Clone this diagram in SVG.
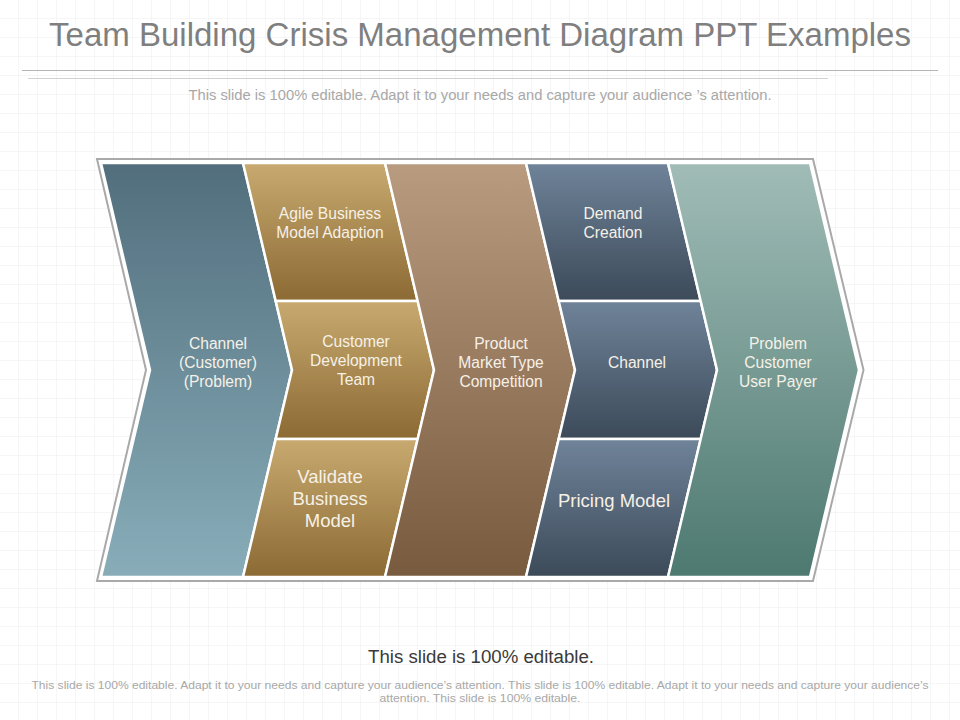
<svg xmlns="http://www.w3.org/2000/svg" width="960" height="720" viewBox="0 0 960 720">
<style>
.lbl{font-family:"Liberation Sans",Arial,sans-serif;font-size:15.6px;fill:#f6f1e7;text-anchor:middle}
.big{font-size:18.5px}
.sh{stroke:#ffffff;stroke-width:2.5;stroke-linejoin:miter}
.ft{font-family:"Liberation Sans",Arial,sans-serif;text-anchor:middle}
</style>
<defs>
<pattern id="grid" width="19" height="19" patternUnits="userSpaceOnUse">
<path d="M19 0 V19 M0 19 H19" fill="none" stroke="#ececec" stroke-width="1"/>
</pattern>
<linearGradient id="gBlue" x1="0" y1="0" x2="0" y2="1"><stop offset="0" stop-color="#526e7d"/><stop offset="1" stop-color="#88adb9"/></linearGradient>
<linearGradient id="gGold" x1="0" y1="0" x2="0" y2="1"><stop offset="0" stop-color="#c8aa70"/><stop offset="1" stop-color="#8b6a33"/></linearGradient>
<linearGradient id="gBrown" x1="0" y1="0" x2="0" y2="1"><stop offset="0" stop-color="#b99b80"/><stop offset="1" stop-color="#785a3f"/></linearGradient>
<linearGradient id="gSlate" x1="0" y1="0" x2="0" y2="1"><stop offset="0" stop-color="#6f8399"/><stop offset="1" stop-color="#3c4a59"/></linearGradient>
<linearGradient id="gTeal" x1="0" y1="0" x2="0" y2="1"><stop offset="0" stop-color="#a1bcb7"/><stop offset="1" stop-color="#4d7970"/></linearGradient>
</defs>
<rect width="960" height="720" fill="#ffffff"/>
<rect width="960" height="720" fill="url(#grid)"/>

<g id="header">
<text class="ft" x="480" y="46" font-size="33" fill="#7f7f7f" textLength="862" lengthAdjust="spacingAndGlyphs">Team Building Crisis Management Diagram PPT Examples</text>
<line x1="22" y1="70.5" x2="938" y2="70.5" stroke="#b5b5b5" stroke-width="1"/>
<line x1="28" y1="78.5" x2="828" y2="78.5" stroke="#d0d0d0" stroke-width="1"/>
<text class="ft" x="480" y="100" font-size="14" fill="#a8a8a8" textLength="583" lengthAdjust="spacingAndGlyphs">This slide is 100% editable. Adapt it to your needs and capture your  audience ’s attention.</text>
</g>

<g id="frame">
<polygon points="97,159 813,159 863.5,370 813,581 97,581 146,370" fill="#ffffff" stroke="#a9a9a9" stroke-width="2"/>
</g>

<g id="connectors"></g>

<g id="node-channel-customer-problem">
<polygon class="sh" points="101,163 243,163 292,370 243,577 101,577 150,370" fill="url(#gBlue)"/>
<text class="lbl" x="218" y="349">Channel</text>
<text class="lbl" x="218" y="368">(Customer)</text>
<text class="lbl" x="218" y="387">(Problem)</text>
</g>

<g id="node-agile-business">
<polygon class="sh" points="243,163 385,163 417.7,301 275.7,301" fill="url(#gGold)"/>
<text class="lbl" x="330" y="219">Agile Business</text>
<text class="lbl" x="330" y="238">Model Adaption</text>
</g>

<g id="node-customer-development">
<polygon class="sh" points="275.7,301 417.7,301 434,370 417.7,439 275.7,439 292,370" fill="url(#gGold)"/>
<text class="lbl" x="356" y="347">Customer</text>
<text class="lbl" x="356" y="366">Development</text>
<text class="lbl" x="356" y="385">Team</text>
</g>

<g id="node-validate-business">
<polygon class="sh" points="275.7,439 417.7,439 385,577 243,577" fill="url(#gGold)"/>
<text class="lbl big" x="330" y="483">Validate</text>
<text class="lbl big" x="330" y="505">Business</text>
<text class="lbl big" x="330" y="527">Model</text>
</g>

<g id="node-product-market">
<polygon class="sh" points="385,163 526,163 575,370 526,577 385,577 434,370" fill="url(#gBrown)"/>
<text class="lbl" x="501" y="349">Product</text>
<text class="lbl" x="501" y="368">Market Type</text>
<text class="lbl" x="501" y="387">Competition</text>
</g>

<g id="node-demand-creation">
<polygon class="sh" points="526,163 668,163 700.7,301 558.7,301" fill="url(#gSlate)"/>
<text class="lbl" x="613" y="219">Demand</text>
<text class="lbl" x="613" y="238">Creation</text>
</g>

<g id="node-channel">
<polygon class="sh" points="558.7,301 700.7,301 717,370 700.7,439 558.7,439 575,370" fill="url(#gSlate)"/>
<text class="lbl" x="637" y="368">Channel</text>
</g>

<g id="node-pricing-model">
<polygon class="sh" points="558.7,439 700.7,439 668,577 526,577" fill="url(#gSlate)"/>
<text class="lbl big" x="614" y="507">Pricing Model</text>
</g>

<g id="node-problem-customer">
<polygon class="sh" points="668,163 810,163 859,370 810,577 668,577 717,370" fill="url(#gTeal)"/>
<text class="lbl" x="778" y="349">Problem</text>
<text class="lbl" x="778" y="368">Customer</text>
<text class="lbl" x="778" y="387">User Payer</text>
</g>

<g id="footer">
<text class="ft" x="481" y="663" font-size="18" fill="#3a3a3a" textLength="226" lengthAdjust="spacingAndGlyphs">This slide is 100% editable.</text>
<text class="ft" x="480" y="689" font-size="11" fill="#a8a8a8" textLength="897" lengthAdjust="spacingAndGlyphs">This slide is 100% editable. Adapt it to your needs and capture your audience’s attention. This slide is 100% editable. Adapt it to your needs and capture your audience’s</text>
<text class="ft" x="480" y="702" font-size="11" fill="#a8a8a8" textLength="201" lengthAdjust="spacingAndGlyphs">attention. This slide is 100% editable.</text>
</g>
</svg>
